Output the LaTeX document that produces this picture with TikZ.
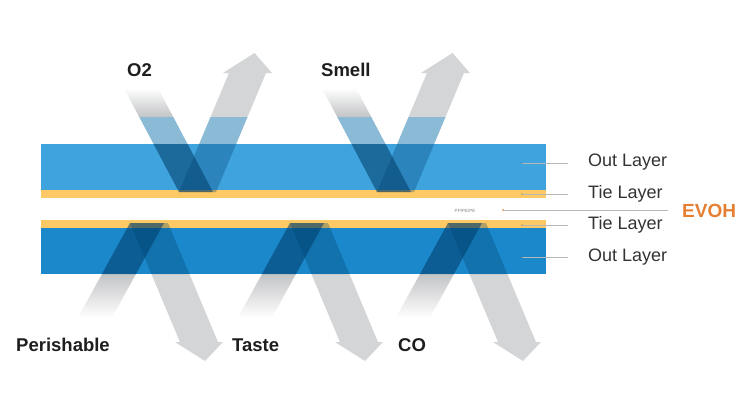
\documentclass[tikz,border=0pt]{standalone}
\usepackage{fontspec}
\setmainfont{Liberation Sans}
\definecolor{topblue}{HTML}{3FA3DD}
\definecolor{botblue}{HTML}{1A88CA}
\definecolor{tieyel}{HTML}{FDC964}
\definecolor{arrgray}{HTML}{D4D5D7}
\definecolor{lightzone}{HTML}{8BBAD6}
\definecolor{deepblue}{HTML}{003A66}
\definecolor{midblue}{HTML}{004070}
\definecolor{evohcol}{HTML}{E57F31}
\definecolor{leader}{HTML}{B8B8B8}
\definecolor{labeltext}{HTML}{1E1E1E}
\definecolor{layertext}{HTML}{333333}
\tikzset{
  layerbox/.style={fill=#1, draw=none},
  grayarrow/.style={fill=arrgray, draw=none},
  zoneband/.style={fill=lightzone, draw=none},
  inshade/.style={fill=deepblue, fill opacity=0.55, draw=none},
  outshade/.style={fill=midblue, fill opacity=0.3, draw=none},
  gaslabel/.style={font=\bfseries\fontsize{18.5}{20}\selectfont, text=labeltext, inner sep=0pt, anchor=base west},
  layerlabel/.style={font=\fontsize{18}{20}\selectfont, text=layertext, inner sep=0pt, anchor=base west},
  evohlabel/.style={font=\bfseries\fontsize{19}{21}\selectfont, text=evohcol, inner sep=0pt, anchor=base west},
  leaderline/.style={draw=leader, line width=0.5pt},
  tinylabel/.style={font=\fontsize{4.5}{5}\selectfont, text=gray, inner sep=0pt},
}
\begin{document}
\begin{tikzpicture}[x=1pt,y=-1pt]
\useasboundingbox (0,0) rectangle (742,405);
\fill[white] (0,0) rectangle (742,405);

% ---- top V arrows (outside layers) ----
\foreach \a in {179,377}{
  \shade[top color=white, bottom color=arrgray!92!black]
    ({\a-55.12},88) -- ({\a-21.12},88) -- ({\a-5.75},117) -- ({\a-39.75},117) -- cycle;
  \fill[grayarrow]
    ({\a+31.5},117) -- ({\a+68.5},117) -- ({\a+86.98},73) -- ({\a+92.98},73)
    -- ({\a+75.5},53) -- ({\a+43.98},73) -- ({\a+49.98},73) -- cycle;
  \fill[zoneband] ({\a-39.75},117) -- ({\a-5.75},117) -- ({\a+8.56},144) -- ({\a-25.44},144) -- cycle;
  \fill[zoneband] ({\a+31.5},117) -- ({\a+68.5},117) -- ({\a+57.16},144) -- ({\a+20.16},144) -- cycle;
}

% ---- bottom inverted V arrows (outside layers) ----
\foreach \a in {130,290,448}{
  \fill[grayarrow]
    ({\a+21.42},274) -- ({\a+59.42},274) -- ({\a+87.98},342) -- ({\a+92.98},342)
    -- ({\a+75},361) -- ({\a+44.98},342) -- ({\a+49.98},342) -- cycle;
  \shade[top color=arrgray!92!black, bottom color=white]
    ({\a-28.05},274) -- ({\a+5.95},274) -- ({\a-18.25},318) -- ({\a-52.25},318) -- cycle;
}

% ---- layers ----
\fill[layerbox=topblue] (41,144) rectangle (546,190);
\fill[layerbox=tieyel]  (41,190) rectangle (546,198);
\fill[layerbox=tieyel]  (41,220) rectangle (546,228);
\fill[layerbox=botblue] (41,228) rectangle (546,274);

% ---- overlays inside layers ----
\foreach \a in {179,377}{
  \fill[inshade]  ({\a-25.44},144) -- ({\a+8.56},144) -- ({\a+34},192) -- (\a,192) -- cycle;
  \fill[outshade] ({\a+20.16},144) -- ({\a+57.16},144) -- ({\a+37},192) -- (\a,192) -- cycle;
}
\foreach \a in {130,290,448}{
  \fill[inshade]  (\a,223) -- ({\a+34},223) -- ({\a+5.95},274) -- ({\a-28.05},274) -- cycle;
  \fill[outshade] (\a,223) -- ({\a+38},223) -- ({\a+59.42},274) -- ({\a+21.42},274) -- cycle;
}

% ---- gas labels ----
\node[gaslabel] (o2) at (127,76.6) {O2};
\node[gaslabel] (smell) at (321,76.6) {Smell};
\node[gaslabel] (perish) at (16,351.6) {Perishable};
\node[gaslabel] (taste) at (232,351.6) {Taste};
\node[gaslabel] (co) at (398,351.6) {CO};

% ---- layer labels and leaders ----
\node[layerlabel] (out1) at (588,166.5) {Out Layer};
\node[layerlabel] (tie1) at (588,198.5) {Tie Layer};
\node[layerlabel] (tie2) at (588,229.5) {Tie Layer};
\node[layerlabel] (out2) at (588,261.5) {Out Layer};
\node[evohlabel] (evoh) at (682,217) {EVOH};
\node[tinylabel] (ppe) at (465,211) {PP/PE/PE};

\coordinate (l1s) at (522,163); \coordinate (l1e) at (568,163);
\coordinate (l2s) at (522,194); \coordinate (l2e) at (568,194);
\coordinate (l3s) at (522,225); \coordinate (l3e) at (568,225);
\coordinate (l4s) at (522,257); \coordinate (l4e) at (568,257);
\coordinate (l5s) at (503,210); \coordinate (l5e) at (668,210);
\draw[leaderline] (l1s) -- (l1e);
\draw[leaderline] (l2s) -- (l2e);
\draw[leaderline] (l3s) -- (l3e);
\draw[leaderline] (l4s) -- (l4e);
\draw[leaderline] (l5s) -- (l5e);
\fill[black!60] (l1s) circle (0.6);
\fill[black!60] (l2s) circle (0.6);
\fill[black!60] (l3s) circle (0.6);
\fill[black!60] (l4s) circle (0.6);
\fill[evohcol] (l5s) circle (0.8);
\end{tikzpicture}
\end{document}
